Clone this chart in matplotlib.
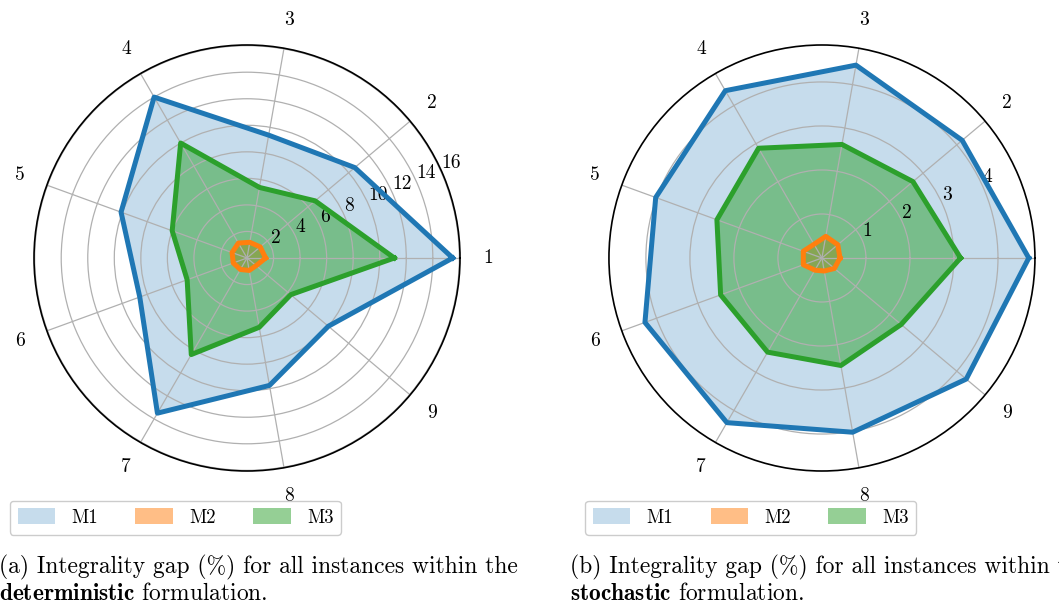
import numpy as np
import matplotlib
matplotlib.use("Agg")
import matplotlib.pyplot as plt

plt.rcParams["font.family"] = "cmr10"
plt.rcParams["mathtext.fontset"] = "cm"
plt.rcParams["axes.formatter.use_mathtext"] = True

# ---- data ----
INSTANCES = ["1", "2", "3", "4", "5", "6", "7", "8", "9"]
SERIES = ["M1", "M2", "M3"]

# (a) deterministic formulation, integrality gap (%)
DET_M1 = [15.5, 10.6, 9.4, 14.0, 10.1, 8.6, 13.5, 9.75, 8.0]
DET_M2 = [1.4, 1.3, 1.2, 1.3, 1.2, 1.1, 1.0, 0.95, 0.9]
DET_M3 = [11.1, 6.7, 5.4, 10.0, 6.0, 4.8, 8.4, 5.3, 4.3]

# (b) stochastic formulation, integrality gap (%)
STO_M1 = [4.7, 4.16, 4.45, 4.39, 4.02, 4.28, 4.32, 4.02, 4.28]
STO_M2 = [0.41, 0.47, 0.5, 0.36, 0.45, 0.45, 0.32, 0.3, 0.37]
STO_M3 = [3.15, 2.7, 2.62, 2.88, 2.54, 2.45, 2.47, 2.48, 2.35]

COLORS = ["#1f77b4", "#ff7f0e", "#2ca02c"]
ALPHAS = [0.25, 0.5, 0.5]

fig = plt.figure(figsize=(10.59, 6.04), dpi=100)


def radar(rect, data, rmax, rticks):
    ax = fig.add_axes(rect, projection="polar")
    ang = np.linspace(0, 2 * np.pi, len(INSTANCES), endpoint=False)
    ang_c = np.append(ang, ang[0])
    fills = []
    for vals, c, a, name in zip(data, COLORS, ALPHAS, SERIES):
        v = np.append(vals, vals[0])
        fills.append(ax.fill(ang_c, v, color=c, alpha=a, lw=0, label=name)[0])
    for vals, c in zip(data, COLORS):
        v = np.append(vals, vals[0])
        ax.plot(ang_c, v, color=c, lw=3.6, zorder=3)
    ax.set_xticks(ang)
    ax.set_xticklabels(INSTANCES, fontsize=14)
    ax.tick_params(axis="x", pad=10)
    ax.set_ylim(0, rmax)
    ax.set_yticks(rticks)
    ax.set_yticklabels([str(t) for t in rticks], fontsize=14)
    ax.set_rlabel_position(24)
    ax.grid(color="#b0b0b0", lw=0.9)
    ax.spines["polar"].set_linewidth(1.2)
    return ax, fills


ax1, h1 = radar([0.0321, 0.2202, 0.4023, 0.7053],
                [DET_M1, DET_M2, DET_M3], 16.05, [2, 4, 6, 8, 10, 12, 14, 16])
ax2, h2 = radar([0.5750, 0.2202, 0.4023, 0.7053],
                [STO_M1, STO_M2, STO_M3], 4.84, [1, 2, 3, 4])

for h, xc in [(h1, 0.1657), (h2, 0.7087)]:
    fig.legend(h, SERIES, ncol=3, loc="center", bbox_to_anchor=(xc, 0.1432),
               fontsize=13.5, handlelength=2.0, handleheight=0.9,
               handletextpad=0.86, columnspacing=2.0, borderpad=0.42,
               framealpha=1, edgecolor="#cccccc")

CAP_FS = 16.9
fig.text(-0.001, 0.0513,
         "(a) Integrality gap (%) for all instances within the",
         fontsize=CAP_FS, va="baseline")
fig.text(-0.001, 0.0066, r"$\mathbf{deterministic}$ formulation.",
         fontsize=CAP_FS, va="baseline")
fig.text(0.5383, 0.0513,
         "(b) Integrality gap (%) for all instances within the",
         fontsize=CAP_FS, va="baseline")
fig.text(0.5383, 0.0066, r"$\mathbf{stochastic}$ formulation.",
         fontsize=CAP_FS, va="baseline")

fig.savefig("out.png", dpi=100)
